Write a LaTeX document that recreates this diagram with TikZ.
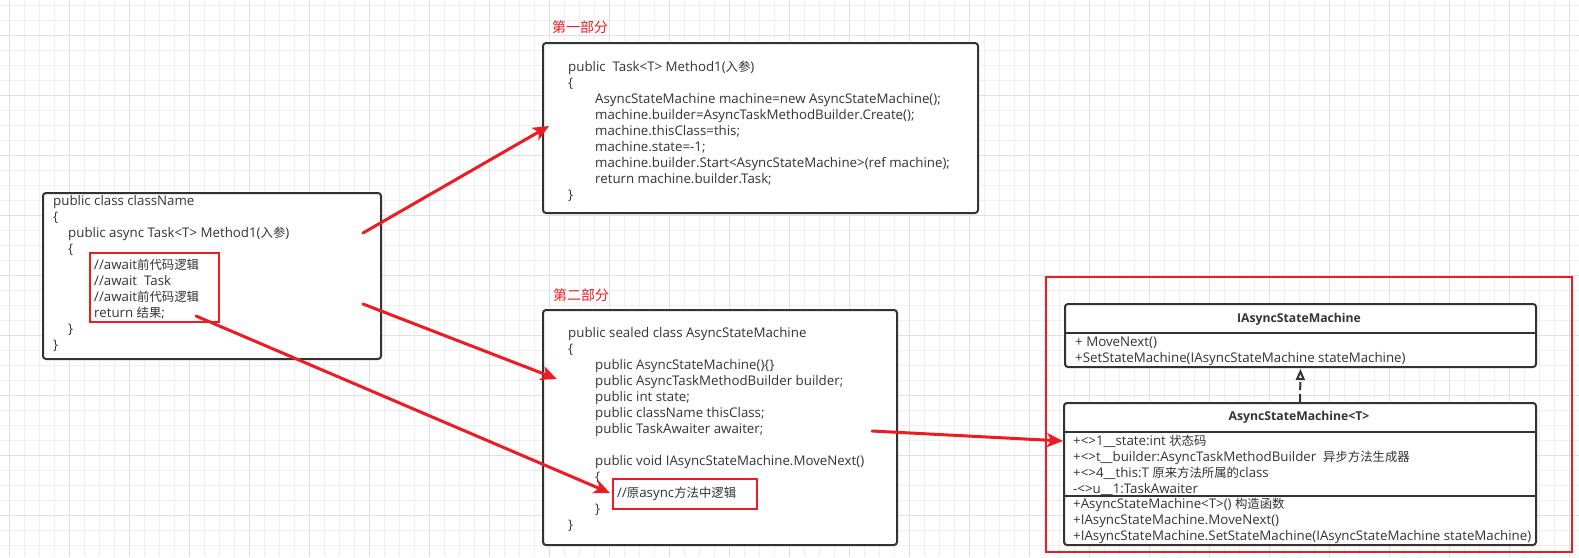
\documentclass[tikz,border=0pt]{standalone}
\usepackage{fontspec}
\setmainfont{Open Sans}
\newfontfamily\cjk{Noto Sans CJK SC}[Scale=0.93]
\usetikzlibrary{arrows.meta}
\definecolor{linered}{RGB}{237,28,36}
\definecolor{gridminor}{RGB}{239,239,239}
\definecolor{gridmajor}{RGB}{225,225,225}
\definecolor{ink}{RGB}{51,51,51}

\begin{document}
\begin{tikzpicture}[x=1pt, y=-1pt,
  codebox/.style={draw=ink, line width=2pt, rounded corners=3pt, fill=white, anchor=north west, inner sep=0pt},
  redbox/.style={draw=linered, line width=2pt, anchor=north west, inner sep=0pt},
  codetext/.style={anchor=north west, align=left, inner sep=0pt, text=ink, font=\fontsize{13.3}{16}\selectfont},
  partlabel/.style={anchor=west, inner sep=0pt, text=linered, font=\fontsize{15}{18}\selectfont\cjk},
  umltitle/.style={inner sep=0pt, text=ink, font=\fontsize{12.2}{16}\selectfont\bfseries},
  redarrow/.style={draw=linered, line width=3pt, line cap=round, -{Stealth[length=16pt, width=14pt, inset=4pt]}}]
  \useasboundingbox[fill=white] (0,0) rectangle (1579,557);
  % grid paper
  \foreach \gx in {9,24,...,1579} \draw[gridminor, line width=1pt] (\gx,0) -- (\gx,557);
  \foreach \gy in {5,20,...,557} \draw[gridminor, line width=1pt] (0,\gy) -- (1579,\gy);
  \foreach \gx in {9,69,...,1579} \draw[gridmajor, line width=1pt] (\gx,0) -- (\gx,557);
  \foreach \gy in {35,95,...,557} \draw[gridmajor, line width=1pt] (0,\gy) -- (1579,\gy);

  % original async method
  \node[codebox, minimum width=338, minimum height=166] (orig) at (42,192) {};
  \node[redbox, minimum width=129, minimum height=69] (body) at (89,252) {};
  \node[codetext] (origtext) at (53,194) {\strut public class className\\
    \{\\
    \hspace*{15pt}public async Task<T> Method1({\cjk 入参})\\
    \hspace*{15pt}\{\\
    \hspace*{41pt}//await{\cjk 前代码逻辑}\\
    \hspace*{41pt}//await\ \ Task\\
    \hspace*{41pt}//await{\cjk 前代码逻辑}\\
    \hspace*{41pt}return {\cjk 结果};\\
    \hspace*{15pt}\}\\
    \}};

  % part one
  \node[partlabel] (label1) at (552,27) {第一部分};
  \node[codebox, minimum width=435, minimum height=170] (part1) at (542,42) {};
  \node[codetext] (part1text) at (568,60) {\strut public\ \ Task<T> Method1({\cjk 入参})\\
    \{\\
    \hspace*{27pt}AsyncStateMachine machine=new AsyncStateMachine();\\
    \hspace*{27pt}machine.builder=AsyncTaskMethodBuilder.Create();\\
    \hspace*{27pt}machine.thisClass=this;\\
    \hspace*{27pt}machine.state=-1;\\
    \hspace*{27pt}machine.builder.Start<AsyncStateMachine>(ref machine);\\
    \hspace*{27pt}return machine.builder.Task;\\
    \}};

  % part two
  \node[partlabel] (label2) at (553,295) {第二部分};
  \node[codebox, minimum width=354, minimum height=235] (part2) at (542,309) {};
  \node[redbox, minimum width=144, minimum height=30] (logic) at (612,478) {};
  \node[codetext] (part2text) at (568,326) {\strut public sealed class AsyncStateMachine\\
    \{\\
    \hspace*{27pt}public AsyncStateMachine()\{\}\\
    \hspace*{27pt}public AsyncTaskMethodBuilder builder;\\
    \hspace*{27pt}public int state;\\
    \hspace*{27pt}public className thisClass;\\
    \hspace*{27pt}public TaskAwaiter awaiter;\\
    \mbox{}\\
    \hspace*{27pt}public void IAsyncStateMachine.MoveNext()\\
    \hspace*{27pt}\{\\
    \hspace*{49pt}//{\cjk 原}async{\cjk 方法中逻辑}\\
    \hspace*{27pt}\}\\
    \}};

  % class diagram
  \node[draw=linered, line width=2pt, anchor=north west, inner sep=0pt, minimum width=526, minimum height=275] (frame) at (1045,276) {};
  \node[codebox, minimum width=471, minimum height=63] (iasm) at (1064,303) {};
  \draw[ink, line width=2pt] (1064,333) -- (1535,333);
  \node[umltitle] (iasmtitle) at (1299,319) {IAsyncStateMachine};
  \node[codetext] (iasmops) at (1075,335) {\strut + MoveNext()\\
    +SetStateMachine(IAsyncStateMachine stateMachine)};

  \node[codebox, minimum width=472, minimum height=142] (asm) at (1063,402) {};
  \node[umltitle] (asmtitle) at (1299,417) {AsyncStateMachine<T>};
  \node[codetext] (asmfields) at (1073,434) {\strut +<>1\_\_state:int {\cjk 状态码}\\
    +<>t\_\_builder:AsyncTaskMethodBuilder\ \ {\cjk 异步方法生成器}\\
    +<>4\_\_this:T {\cjk 原来方法所属的}class\\
    -<>u\_\_1:TaskAwaiter};
  \node[codetext] (asmops) at (1073,497) {\strut +AsyncStateMachine<T>() {\cjk 构造函数}\\
    +IAsyncStateMachine.MoveNext()\\
    +IAsyncStateMachine.SetStateMachine(IAsyncStateMachine stateMachine)};
  \draw[ink, line width=2pt] (1063,432) -- (1535,432);
  \draw[ink, line width=2pt] (1063,496) -- (1535,496);
  \draw[ink, line width=2pt, dash pattern=on 8pt off 4pt, -{Triangle[open, fill=white, length=11pt, width=9pt]}] (asm.north) -- ([yshift=-1pt]iasm.south);

  % red arrows
  \coordinate (from1) at (363,233);
  \coordinate (to1) at (549,126);
  \coordinate (from2) at (363,304);
  \coordinate (to2) at (557,379);
  \coordinate (from3) at (196,316);
  \coordinate (to3) at (610,493);
  \coordinate (from4) at (872,431);
  \coordinate (to4) at (1063,441);
  \draw[redarrow] (from1) -- (to1);
  \draw[redarrow] (from2) -- (to2);
  \draw[redarrow] (from3) -- (to3);
  \draw[redarrow] (from4) -- (to4);
\end{tikzpicture}
\end{document}
